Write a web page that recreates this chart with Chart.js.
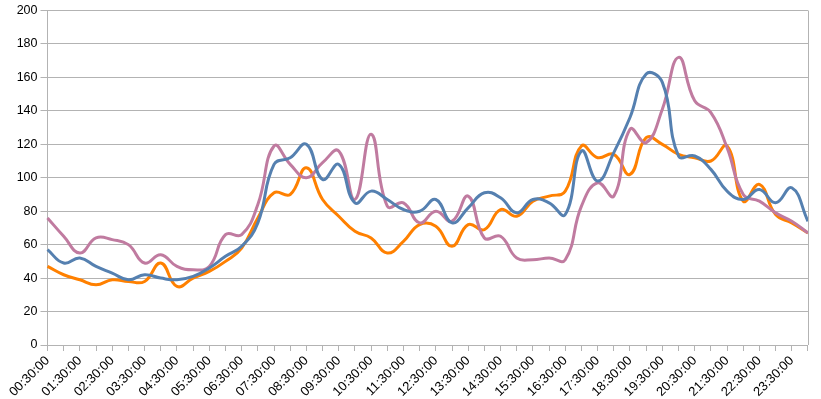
<!DOCTYPE html>
<html lang="en">
<head>
<meta charset="UTF-8">
<title>Daily profile</title>
<script src="https://cdn.jsdelivr.net/npm/chart.js"></script>
<style>
  html, body { margin:0; padding:0; background:#fff; }
  #wrap { width:821px; height:399px; }
</style>
</head>
<body>
<div id="wrap"><canvas id="chart" width="821" height="399"></canvas></div>

<script>
// half-hour categories, 00:30 .. 24:00
const times = [
  "00:30:00","01:00:00","01:30:00","02:00:00","02:30:00","03:00:00","03:30:00","04:00:00",
  "04:30:00","05:00:00","05:30:00","06:00:00","06:30:00","07:00:00","07:30:00","08:00:00",
  "08:30:00","09:00:00","09:30:00","10:00:00","10:30:00","11:00:00","11:30:00","12:00:00",
  "12:30:00","13:00:00","13:30:00","14:00:00","14:30:00","15:00:00","15:30:00","16:00:00",
  "16:30:00","17:00:00","17:30:00","18:00:00","18:30:00","19:00:00","19:30:00","20:00:00",
  "20:30:00","21:00:00","21:30:00","22:00:00","22:30:00","23:00:00","23:30:00","00:00:00"
];

const blueSeries = [
  57, 49, 52, 47, 43, 39, 42, 40, 39, 41, 46, 53, 59, 73, 108, 112,
  120, 99, 108, 85, 92, 87, 81, 80, 87, 73, 82, 91, 88, 79, 87, 85,
  78, 116, 98, 115, 136, 162, 157, 113, 113, 105, 92, 87, 93, 85, 94, 74
];

const pinkSeries = [
  76, 65, 55, 64, 63, 60, 49, 54, 47, 45, 47, 66, 66, 84, 119, 108,
  100, 109, 116, 87, 126, 83, 85, 73, 80, 74, 89, 64, 65, 52, 51, 52,
  51, 83, 97, 89, 129, 121, 141, 172, 146, 139, 118, 90, 86, 79, 74, 67
];

const orangeSeries = [
  47, 42, 39, 36, 39, 38, 38, 49, 35, 40, 44, 50, 58, 76, 91, 90,
  106, 87, 77, 68, 64, 55, 62, 72, 71, 59, 72, 69, 81, 77, 86, 89,
  92, 119, 112, 114, 102, 124, 120, 114, 112, 110, 119, 86, 96, 78, 73, 67
];

const yTicks = [0, 20, 40, 60, 80, 100, 120, 140, 160, 180, 200];

const gridColor = "#b3b3b3";

// right edge of the plot frame
const frameRight = {
  id: "frameRight",
  afterDraw(chart){
    const a = chart.chartArea, ctx = chart.ctx;
    ctx.save();
    ctx.strokeStyle = gridColor;
    ctx.lineWidth = 1;
    ctx.beginPath();
    const x = Math.round(a.right) + 0.5;
    ctx.moveTo(x, a.top);
    ctx.lineTo(x, a.bottom);
    ctx.stroke();
    ctx.restore();
  }
};

function line(data, color){
  return { data:data, borderColor:color, backgroundColor:color, borderWidth:3,
           pointRadius:0, tension:0.45, fill:false };
}

new Chart(document.getElementById("chart").getContext("2d"), {
  type:"line",
  data:{
    labels: times,
    datasets:[
      line(blueSeries, "#5580b0"),
      line(pinkSeries, "#c07ba0"),
      line(orangeSeries, "#ff8000")
    ]
  },
  options:{
    responsive:false,
    animation:false,
    layout:{ padding:{ top:9, right:6, left:0, bottom:0 } },
    plugins:{ legend:{display:false}, tooltip:{enabled:false} },
    scales:{
      x:{
        grid:{ drawOnChartArea:false, drawTicks:true, tickLength:6, color:gridColor },
        border:{ color:gridColor },
        ticks:{
          autoSkip:false, minRotation:45, maxRotation:45, padding:2,
          color:"#000", font:{ family:"Liberation Sans", size:13 },
          callback:function(v, i){ return i % 2 === 0 ? times[i] : ""; }
        },
        afterFit:function(s){ s.height = 54; }
      },
      y:{
        min:0, max:200,
        afterBuildTicks:function(s){ s.ticks = yTicks.map(v => ({value:v})); },
        grid:{ color:gridColor, tickLength:7 },
        border:{ color:gridColor },
        ticks:{ color:"#000", padding:3, font:{ family:"Liberation Sans", size:12.5 } },
        afterFit:function(s){ s.width = 47.5; }
      }
    }
  },
  plugins:[frameRight]
});
</script>
</body>
</html>
